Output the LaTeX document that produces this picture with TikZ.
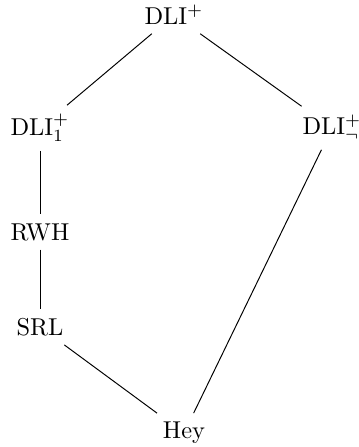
\documentclass[tikz,border=0pt]{standalone}
\begin{document}
\begin{tikzpicture}[x=0.41pt,y=-0.41pt, every node/.style={inner sep=3.5pt}]
\useasboundingbox (0,0) rectangle (359,447);
\node (top) at (174,15) {DLI$^+$};
\node (l1) at (40,128) {DLI$^+_1$};
\node (rn) at (332,128) {DLI$^+_\neg$};
\node (rwh) at (40,232) {RWH};
\node (srl) at (40,327) {SRL};
\node (hey) at (184,433) {Hey};
\draw (top) -- (l1);
\draw (top) -- (rn);
\draw (l1) -- (rwh);
\draw (rwh) -- (srl);
\draw (srl) -- (hey);
\draw (rn) -- (hey);
\end{tikzpicture}
\end{document}
